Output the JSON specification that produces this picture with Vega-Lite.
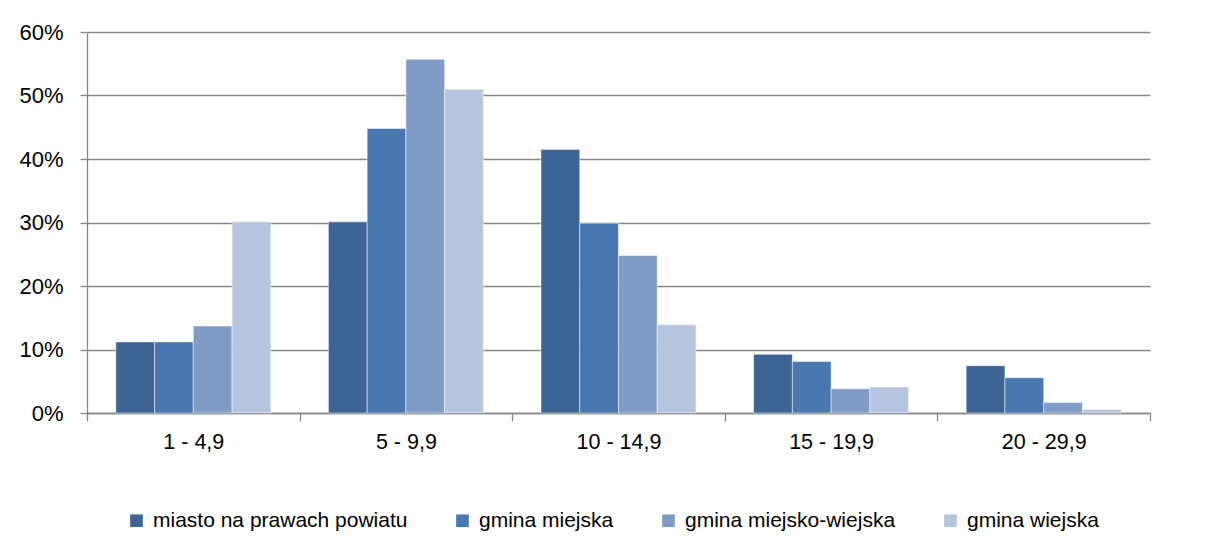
{
  "$schema": "https://vega.github.io/schema/vega-lite/v6.json",
  "width": 1063,
  "height": 381,
  "autosize": "none",
  "padding": {"left": 87, "top": 32, "right": 55, "bottom": 137},
  "background": "#ffffff",
  "config": {
    "view": {"stroke": null},
    "font": "Liberation Sans"
  },
  "data": {
    "values": [
      {"klasa": "1 - 4,9", "typ": "miasto na prawach powiatu", "v": 0.112},
      {"klasa": "1 - 4,9", "typ": "gmina miejska", "v": 0.112},
      {"klasa": "1 - 4,9", "typ": "gmina miejsko-wiejska", "v": 0.137},
      {"klasa": "1 - 4,9", "typ": "gmina wiejska", "v": 0.301},
      {"klasa": "5 - 9,9", "typ": "miasto na prawach powiatu", "v": 0.301},
      {"klasa": "5 - 9,9", "typ": "gmina miejska", "v": 0.448},
      {"klasa": "5 - 9,9", "typ": "gmina miejsko-wiejska", "v": 0.557},
      {"klasa": "5 - 9,9", "typ": "gmina wiejska", "v": 0.51},
      {"klasa": "10 - 14,9", "typ": "miasto na prawach powiatu", "v": 0.415},
      {"klasa": "10 - 14,9", "typ": "gmina miejska", "v": 0.299},
      {"klasa": "10 - 14,9", "typ": "gmina miejsko-wiejska", "v": 0.248},
      {"klasa": "10 - 14,9", "typ": "gmina wiejska", "v": 0.139},
      {"klasa": "15 - 19,9", "typ": "miasto na prawach powiatu", "v": 0.0925},
      {"klasa": "15 - 19,9", "typ": "gmina miejska", "v": 0.081},
      {"klasa": "15 - 19,9", "typ": "gmina miejsko-wiejska", "v": 0.038},
      {"klasa": "15 - 19,9", "typ": "gmina wiejska", "v": 0.041},
      {"klasa": "20 - 29,9", "typ": "miasto na prawach powiatu", "v": 0.0745},
      {"klasa": "20 - 29,9", "typ": "gmina miejska", "v": 0.0555},
      {"klasa": "20 - 29,9", "typ": "gmina miejsko-wiejska", "v": 0.0165},
      {"klasa": "20 - 29,9", "typ": "gmina wiejska", "v": 0.0055}
    ]
  },
  "mark": {"type": "bar", "stroke": "#ffffff", "strokeWidth": 0.7, "strokeOpacity": 0.7},
  "encoding": {
    "x": {
      "field": "klasa",
      "type": "nominal",
      "sort": ["1 - 4,9", "5 - 9,9", "10 - 14,9", "15 - 19,9", "20 - 29,9"],
      "scale": {"paddingInner": 0, "paddingOuter": 0},
      "axis": {
        "title": null,
        "labelAngle": 0,
        "tickBand": "extent",
        "tickSize": 8,
        "tickWidth": 1.3,
        "domainWidth": 1.3,
        "domainColor": "#868686",
        "tickColor": "#868686",
        "labelFont": "Liberation Sans",
        "labelFontSize": 21.5,
        "labelColor": "#000000",
        "labelPadding": 10
      }
    },
    "xOffset": {
      "field": "typ",
      "sort": ["miasto na prawach powiatu", "gmina miejska", "gmina miejsko-wiejska", "gmina wiejska"],
      "scale": {"paddingInner": 0, "paddingOuter": 0.743}
    },
    "y": {
      "field": "v",
      "type": "quantitative",
      "scale": {"domain": [0, 0.6], "nice": false},
      "axis": {
        "title": null,
        "values": [0, 0.1, 0.2, 0.3, 0.4, 0.5, 0.6],
        "format": ".0%",
        "grid": true,
        "gridColor": "#868686",
        "gridWidth": 1.3,
        "domainColor": "#868686",
        "domainWidth": 1.3,
        "tickColor": "#868686",
        "tickWidth": 1.3,
        "tickSize": 7,
        "labelFont": "Liberation Sans",
        "labelFontSize": 22,
        "labelColor": "#000000",
        "labelPadding": 17
      }
    },
    "color": {
      "field": "typ",
      "type": "nominal",
      "sort": ["miasto na prawach powiatu", "gmina miejska", "gmina miejsko-wiejska", "gmina wiejska"],
      "scale": {
        "domain": ["miasto na prawach powiatu", "gmina miejska", "gmina miejsko-wiejska", "gmina wiejska"],
        "range": ["#3D6494", "#4878AF", "#7F9CC7", "#B5C4DF"]
      },
      "legend": {
        "title": null,
        "orient": "none",
        "direction": "horizontal",
        "legendX": 39,
        "legendY": 478,
        "symbolType": "square",
        "symbolSize": 160,
        "symbolStrokeWidth": 0,
        "labelFont": "Liberation Sans",
        "labelFontSize": 21,
        "labelColor": "#000000",
        "labelOffset": 6,
        "columnPadding": 44,
        "labelLimit": 400
      }
    }
  }
}
